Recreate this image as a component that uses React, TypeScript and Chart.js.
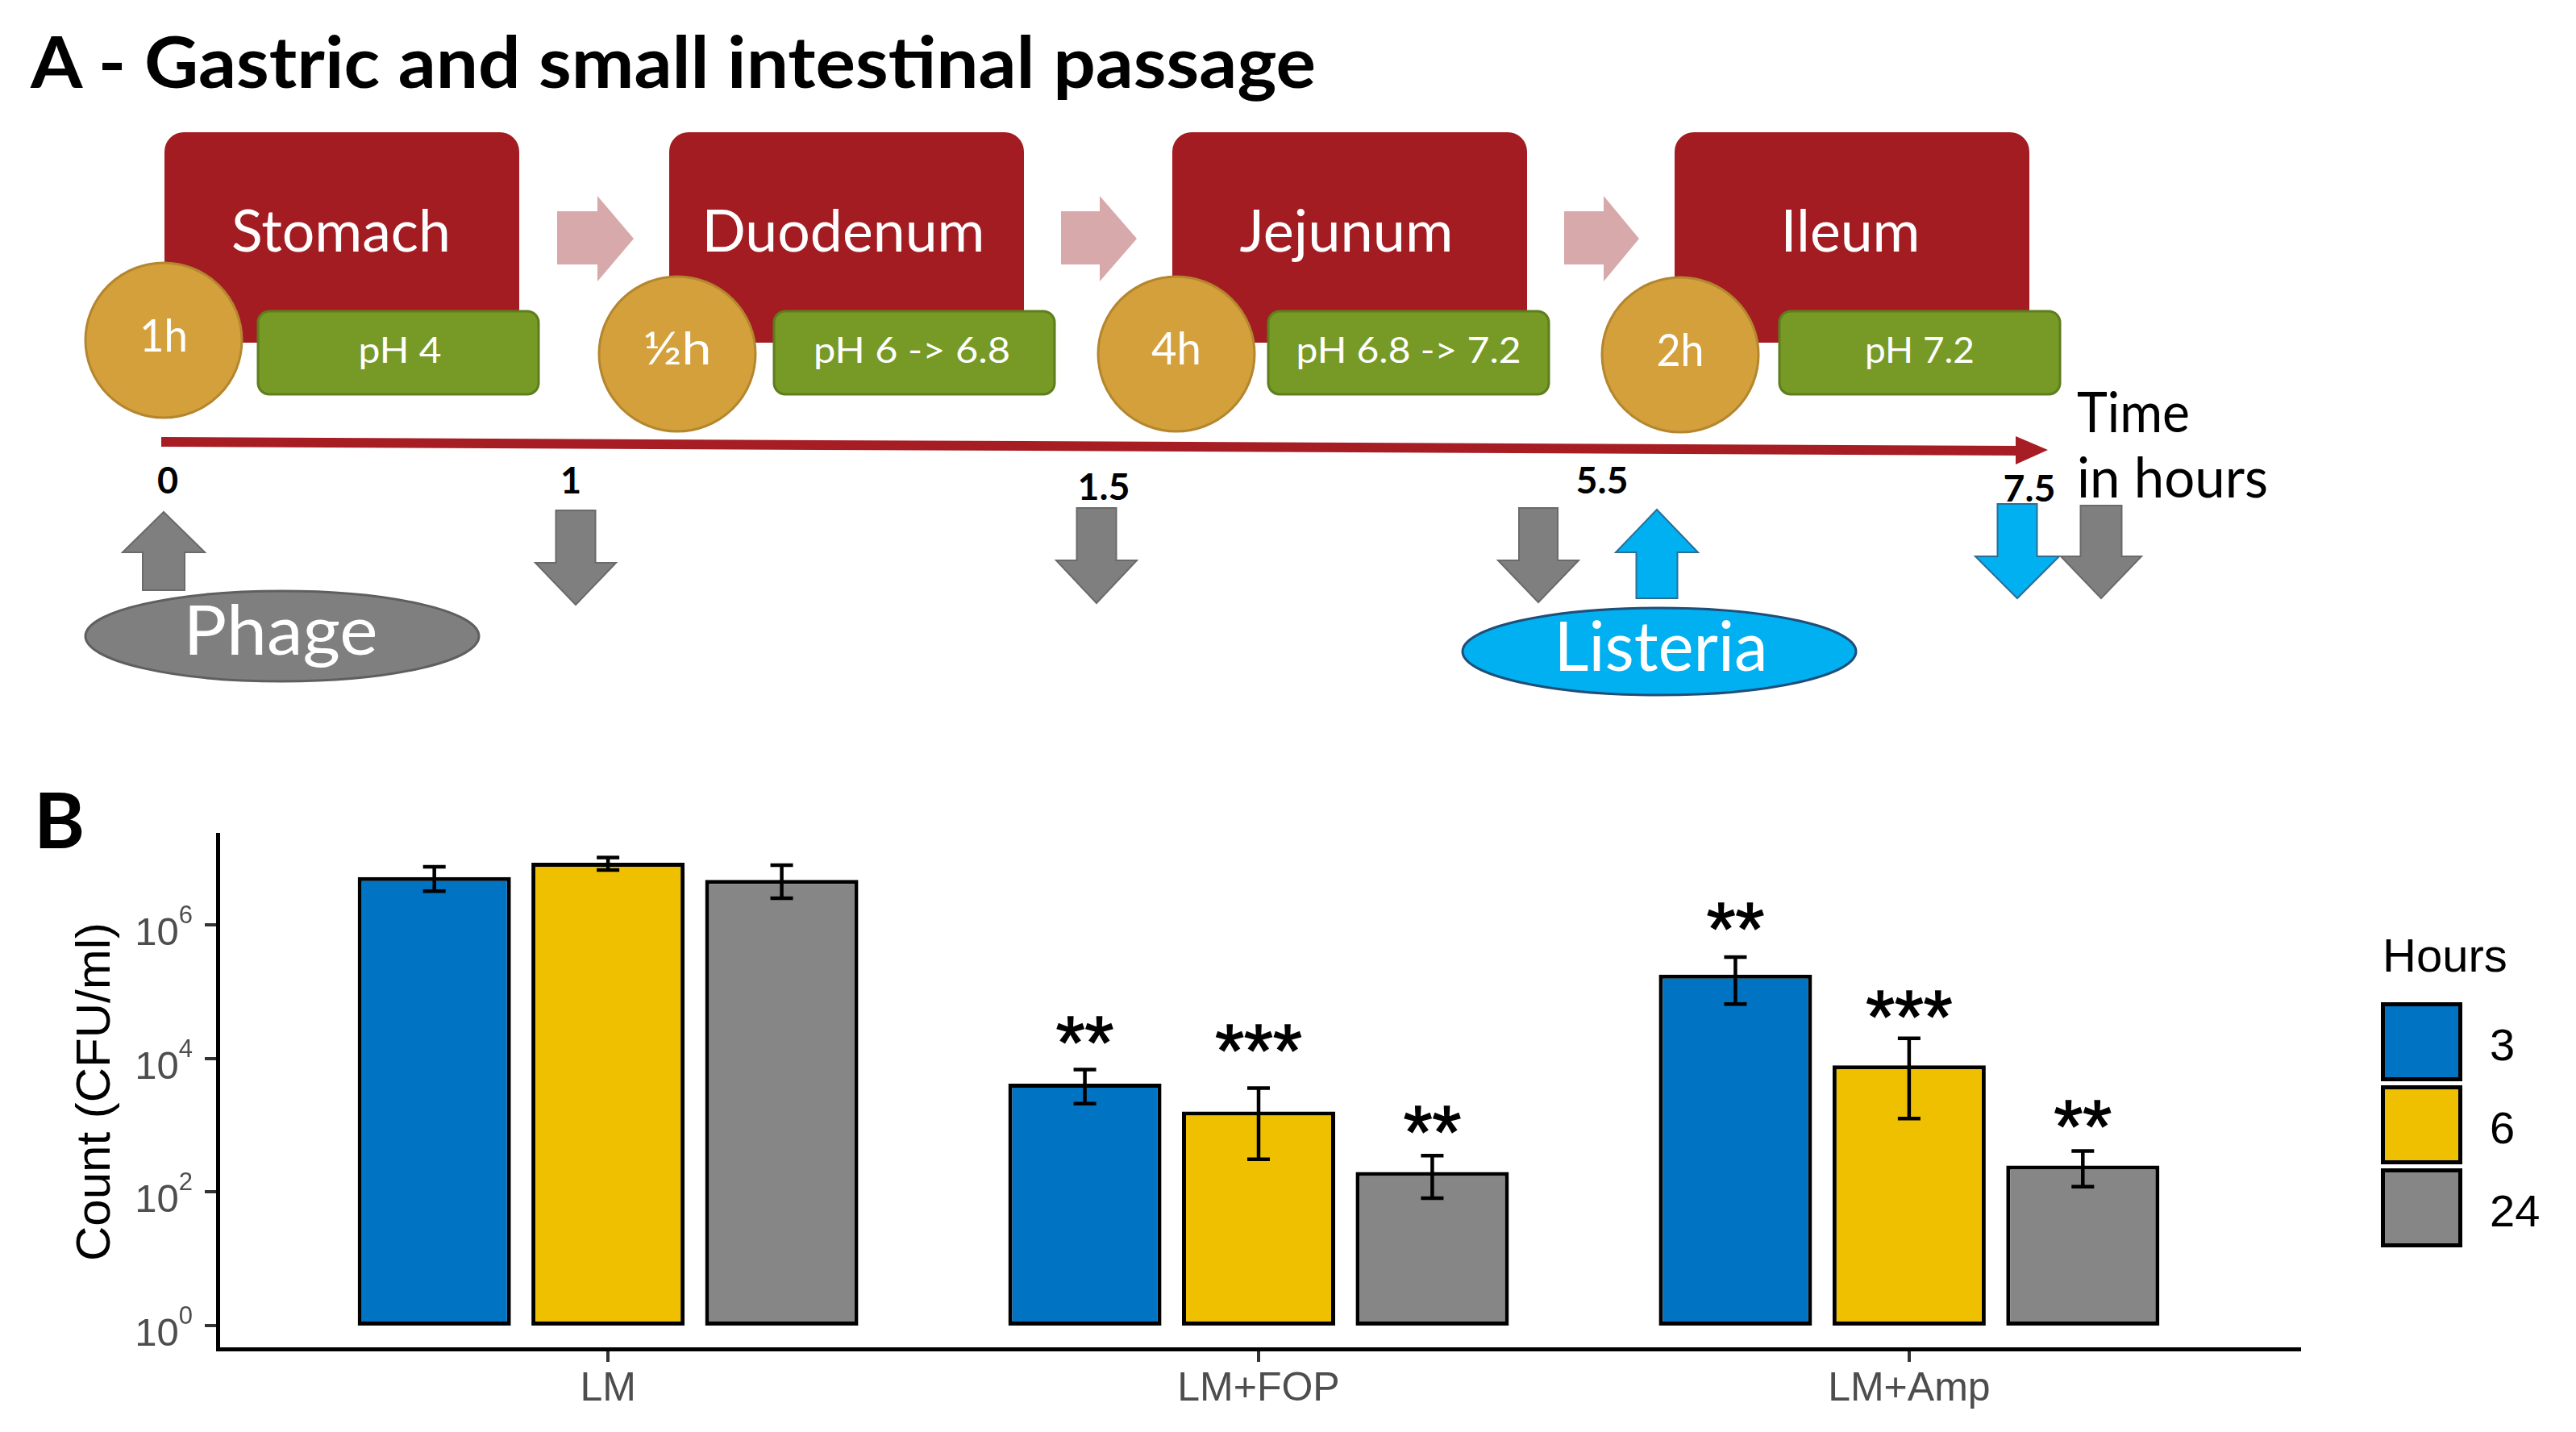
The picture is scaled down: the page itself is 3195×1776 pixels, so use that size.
import React, { useEffect, useRef } from 'react';
import { Chart, registerables } from 'chart.js';

Chart.register(...registerables);

// ---------- Panel B data ----------
const categories = ['LM', 'LM+FOP', 'LM+Amp'];
const hourLabels = ['3', '6', '24'];
const count3h = [5.2e6, 4.2e3, 1.8e5];
const count6h = [8.5e6, 1.6e3, 7.9e3];
const count24h = [4.7e6, 2.0e2, 2.5e2];
const low3h = [3.2e6, 2.1e3, 6.5e4];
const high3h = [7.4e6, 6.8e3, 3.3e5];
const low6h = [6.6e6, 3.1e2, 1.26e3];
const high6h = [1.02e7, 3.6e3, 2.0e4];
const low24h = [2.5e6, 81, 120];
const high24h = [7.8e6, 3.5e2, 4.1e2];
const stars3h = ['', '**', '**'];
const stars6h = ['', '***', '***'];
const stars24h = ['', '**', '**'];
const starAt3h = [0, 3.3e4, 1.65e6];
const starAt6h = [0, 2.5e4, 8.0e4];
const starAt24h = [0, 1.5e3, 1.8e3];
const yTickValues = [1, 1e2, 1e4, 1e6];
const BAR_BASE = 1;
const Y_MIN = 0.447;
const Y_MAX = 2.25e7;

// ---------- Panel A content ----------
const stageNames = ['Stomach', 'Duodenum', 'Jejunum', 'Ileum'];
const stageDurations = ['1h', '\u00BDh', '4h', '2h'];
const stagePH = ['pH 4', 'pH 6 -> 6.8', 'pH 6.8 -> 7.2', 'pH 7.2'];
const timeTickLabels = ['0', '1', '1.5', '5.5', '7.5'];

const series = [count3h, count6h, count24h];
const lows = [low3h, low6h, low24h];
const highs = [high3h, high6h, high24h];
const stars = [stars3h, stars6h, stars24h];
const starAt = [starAt3h, starAt6h, starAt24h];
const barColors = ['#0073C2', '#EFC000', '#868686'];

const FONT = "'Liberation Sans', Arial, sans-serif";
const AFONT = "Lato, 'Open Sans', sans-serif";
const CANVAS_TOP = 960;

// Layout of panel A (diagram geometry, not chart data)
const L = {
  boxX: [204, 830, 1454, 2077],
  nameCX: [423, 1046, 1670, 2295],
  nameW: [272, 351, 265, 173],
  greenX: [320, 960, 1573, 2207],
  phCX: [496, 1131, 1747, 2381],
  phW: [103, 244, 279, 136],
  circX: [203, 840, 1459, 2084],
  circY: [422, 439, 439, 440],
  durW: [60, 85, 62, 59],
  durBase: [436, 452, 452, 454],
  pinkX: [[691, 741, 786], [1316, 1364, 1410], [1940, 1989, 2033]],
  tickCX: [208, 708, 1369, 1987, 2517],
  tickBase: [612, 612, 620, 612, 622],
  tickW: [0, 0, 65, 65, 65],
};

type Arrow = { cx: number; tail: number; tip: number; sh: number; hh: number; hl: number; fill: string; stroke: string };
const arrows: Arrow[] = [
  { cx: 203, tail: 732, tip: 635, sh: 26, hh: 51, hl: 50, fill: '#7F7F7F', stroke: '#6A6A6A' },
  { cx: 714, tail: 633, tip: 750, sh: 24.5, hh: 50, hl: 52, fill: '#7F7F7F', stroke: '#6A6A6A' },
  { cx: 1360, tail: 630, tip: 748, sh: 24.5, hh: 50, hl: 53, fill: '#7F7F7F', stroke: '#6A6A6A' },
  { cx: 1908, tail: 630, tip: 747, sh: 24, hh: 50, hl: 52, fill: '#7F7F7F', stroke: '#6A6A6A' },
  { cx: 2055, tail: 742, tip: 632, sh: 25.5, hh: 51, hl: 53, fill: '#00B0F0', stroke: '#2A6E96' },
  { cx: 2502, tail: 625, tip: 742, sh: 24.5, hh: 52, hl: 52, fill: '#00B0F0', stroke: '#2A6E96' },
  { cx: 2606, tail: 627, tip: 742, sh: 25.5, hh: 50, hl: 52, fill: '#7F7F7F', stroke: '#6A6A6A' },
];

function arrowPoints(a: Arrow): string {
  const sgn = a.tip > a.tail ? 1 : -1;
  const neck = a.tip - sgn * a.hl;
  const p = [
    [a.cx - a.sh, a.tail], [a.cx + a.sh, a.tail], [a.cx + a.sh, neck], [a.cx + a.hh, neck],
    [a.cx, a.tip], [a.cx - a.hh, neck], [a.cx - a.sh, neck],
  ];
  return p.map((q) => q.join(',')).join(' ');
}

const errorBarPlugin = {
  id: 'errorBars',
  afterDatasetsDraw(chart: any) {
    const ctx = chart.ctx;
    const y = chart.scales.y;
    chart.data.datasets.forEach((_ds: any, s: number) => {
      const meta = chart.getDatasetMeta(s);
      meta.data.forEach((bar: any, i: number) => {
        const x = bar.x;
        const yl = y.getPixelForValue(lows[s][i]);
        const yh = y.getPixelForValue(highs[s][i]);
        ctx.save();
        ctx.strokeStyle = '#000';
        ctx.lineWidth = 4.5;
        ctx.beginPath();
        ctx.moveTo(x, yl); ctx.lineTo(x, yh);
        ctx.moveTo(x - 14, yl); ctx.lineTo(x + 14, yl);
        ctx.moveTo(x - 14, yh); ctx.lineTo(x + 14, yh);
        ctx.stroke();
        ctx.restore();
        const label = stars[s][i];
        if (label) {
          const ys = y.getPixelForValue(starAt[s][i]);
          ctx.save();
          ctx.fillStyle = '#000';
          ctx.strokeStyle = '#000';
          ctx.lineWidth = 1.5;
          ctx.font = `92px ${FONT}`;
          ctx.textAlign = 'center';
          ctx.textBaseline = 'alphabetic';
          ctx.fillText(label, x, ys + 55);
          ctx.strokeText(label, x, ys + 55);
          ctx.restore();
        }
      });
    });
  },
};

const axisLabelPlugin = {
  id: 'supTicks',
  afterDraw(chart: any) {
    const ctx = chart.ctx;
    const y = chart.scales.y;
    ctx.save();
    ctx.fillStyle = '#4D4D4D';
    ctx.textAlign = 'right';
    ctx.textBaseline = 'alphabetic';
    y.ticks.forEach((t: any) => {
      const py = y.getPixelForValue(t.value);
      const ex = String(Math.round(Math.log10(t.value)));
      const right = y.right - 31;
      ctx.font = `31px ${FONT}`;
      const ew = ctx.measureText(ex).width;
      ctx.fillText(ex, right, py - 2);
      ctx.font = `49px ${FONT}`;
      ctx.fillText('10', right - ew, py + 25);
    });
    ctx.restore();

    // legend
    ctx.save();
    ctx.fillStyle = '#000';
    ctx.textAlign = 'left';
    ctx.textBaseline = 'alphabetic';
    ctx.font = `58px ${FONT}`;
    ctx.fillText('Hours', 2955, 1205 - CANVAS_TOP);
    chart.data.datasets.forEach((ds: any, s: number) => {
      const top = 1243 - CANVAS_TOP + s * 103;
      ctx.fillStyle = ds.backgroundColor;
      ctx.fillRect(2953, top, 101, 98);
      ctx.strokeStyle = '#000';
      ctx.lineWidth = 5;
      ctx.strokeRect(2955.5, top + 2.5, 96, 93);
      ctx.fillStyle = '#000';
      ctx.font = `56px ${FONT}`;
      ctx.fillText(ds.label, 3088, top + 72);
    });
    ctx.restore();
  },
};

function BarChart() {
  const ref = useRef<HTMLCanvasElement | null>(null);
  useEffect(() => {
    if (!ref.current) return;
    Chart.defaults.font.family = FONT;
    const chart = new Chart(ref.current, {
      type: 'bar',
      data: {
        datasets: series.map((vals, s) => ({
          label: hourLabels[s],
          data: vals.map((v, i) => ({ x: i + 1, y: [BAR_BASE, v] })),
          backgroundColor: barColors[s],
          borderColor: '#000',
          borderWidth: 5,
          borderSkipped: false,
          categoryPercentage: 0.801,
          barPercentage: 0.882,
        })) as any,
      },
      options: {
        responsive: false,
        animation: false,
        devicePixelRatio: 1,
        layout: { padding: { top: 75, right: 343, left: 0, bottom: 0 } },
        plugins: { legend: { display: false }, tooltip: { enabled: false } },
        scales: {
          x: {
            type: 'linear',
            min: 0.4,
            max: 3.6,
            offset: false,
            afterBuildTicks: (s: any) => { s.ticks = categories.map((_, i) => ({ value: i + 1 })); },
            afterFit: (s: any) => { s.height = 103; },
            ticks: {
              callback: (v: any) => categories[Math.round(Number(v)) - 1] ?? '',
              font: { family: FONT, size: 50 },
              color: '#4D4D4D',
              padding: 4,
              autoSkip: false,
              maxRotation: 0,
            },
            grid: { offset: false, drawOnChartArea: false, drawTicks: true, tickLength: 16, lineWidth: 4, color: '#333333' },
            border: { display: true, color: '#000', width: 5 },
          },
          y: {
            type: 'logarithmic',
            min: Y_MIN,
            max: Y_MAX,
            bounds: 'data',
            afterBuildTicks: (s: any) => { s.ticks = yTickValues.map((v) => ({ value: v })); },
            afterFit: (s: any) => { s.width = 270; },
            ticks: { display: false },
            grid: { offset: false, drawOnChartArea: false, drawTicks: true, tickLength: 16, lineWidth: 4, color: '#333333' },
            border: { display: true, color: '#000', width: 5 },
            title: {
              display: true,
              text: 'Count (CFU/ml)',
              font: { family: FONT, size: 60 },
              color: '#000',
              padding: { top: 83, bottom: 0 },
            },
          },
        } as any,
      },
      plugins: [errorBarPlugin, axisLabelPlugin],
    });
    return () => chart.destroy();
  }, []);
  return (
    <canvas
      ref={ref}
      width={3195}
      height={816}
      style={{ position: 'absolute', left: 0, top: CANVAS_TOP, width: 3195, height: 816 }}
    />
  );
}

function Diagram() {
  return (
    <svg width={3195} height={1776} style={{ position: 'absolute', left: 0, top: 0 }}>
      <text x={38} y={109} fontFamily={AFONT} fontWeight={700} fontSize={88} fill="#000"
        textLength={1594} lengthAdjust="spacingAndGlyphs">A - Gastric and small intestinal passage</text>

      {L.pinkX.map(([x0, xn, xt], i) => (
        <polygon key={'p' + i} fill="#D8A9AA"
          points={`${x0},262 ${xn},262 ${xn},243 ${xt},296 ${xn},349 ${xn},328 ${x0},328`} />
      ))}

      {stageNames.map((n, i) => (
        <g key={'s' + i}>
          <rect x={L.boxX[i]} y={164} width={440} height={261} rx={24} fill="#A21C22" />
          <text x={L.nameCX[i]} y={312} textAnchor="middle" fontFamily={AFONT} fontSize={72} fill="#fff"
            textLength={L.nameW[i]} lengthAdjust="spacingAndGlyphs">{n}</text>
          <rect x={L.greenX[i]} y={386} width={348} height={103} rx={14} fill="#779A26" stroke="#5E7D1C" strokeWidth={3} />
          <text x={L.phCX[i]} y={450} textAnchor="middle" fontFamily={AFONT} fontSize={45} fill="#fff"
            textLength={L.phW[i]} lengthAdjust="spacingAndGlyphs">{stagePH[i]}</text>
          <ellipse cx={L.circX[i]} cy={L.circY[i]} rx={97} ry={96} fill="#D4A03C" stroke="#B4862E" strokeWidth={3} />
          <text x={L.circX[i]} y={L.durBase[i]} textAnchor="middle" fontFamily={AFONT} fontSize={56} fill="#fff"
            textLength={L.durW[i]} lengthAdjust="spacingAndGlyphs">{stageDurations[i]}</text>
        </g>
      ))}

      <line x1={200} y1={548} x2={2505} y2={559} stroke="#A61D24" strokeWidth={12} />
      <polygon points="2500,541 2540,558 2500,576" fill="#A61D24" />

      {timeTickLabels.map((t, i) => (
        <text key={'t' + i} x={L.tickCX[i]} y={L.tickBase[i]} textAnchor="middle" fontFamily={AFONT}
          fontWeight={700} fontSize={45} fill="#000"
          {...(L.tickW[i] ? { textLength: L.tickW[i], lengthAdjust: 'spacingAndGlyphs' } : {})}>{t}</text>
      ))}

      <text x={2576} y={536} fontFamily={AFONT} fontSize={70} fill="#000" textLength={140} lengthAdjust="spacingAndGlyphs">Time</text>
      <text x={2576} y={617} fontFamily={AFONT} fontSize={70} fill="#000" textLength={237} lengthAdjust="spacingAndGlyphs">in hours</text>

      {arrows.map((a, i) => (
        <polygon key={'a' + i} points={arrowPoints(a)} fill={a.fill} stroke={a.stroke} strokeWidth={2} />
      ))}

      <ellipse cx={350} cy={789} rx={244} ry={56} fill="#7F7F7F" stroke="#5F5F5F" strokeWidth={3} />
      <text x={348} y={812} textAnchor="middle" fontFamily={AFONT} fontSize={86} fill="#fff"
        textLength={241} lengthAdjust="spacingAndGlyphs">Phage</text>
      <ellipse cx={2058} cy={808} rx={244} ry={54} fill="#00B0F0" stroke="#1F4E79" strokeWidth={3} />
      <text x={2060} y={832} textAnchor="middle" fontFamily={AFONT} fontSize={86} fill="#fff"
        textLength={265} lengthAdjust="spacingAndGlyphs">Listeria</text>

      <text x={42} y={1052} fontFamily={AFONT} fontWeight={700} fontSize={96} fill="#000">B</text>
    </svg>
  );
}

export default function App() {
  return (
    <div style={{ position: 'absolute', left: 0, top: 0, width: 3195, height: 1776, background: '#fff', overflow: 'hidden' }}>
      <Diagram />
      <BarChart />
    </div>
  );
}
